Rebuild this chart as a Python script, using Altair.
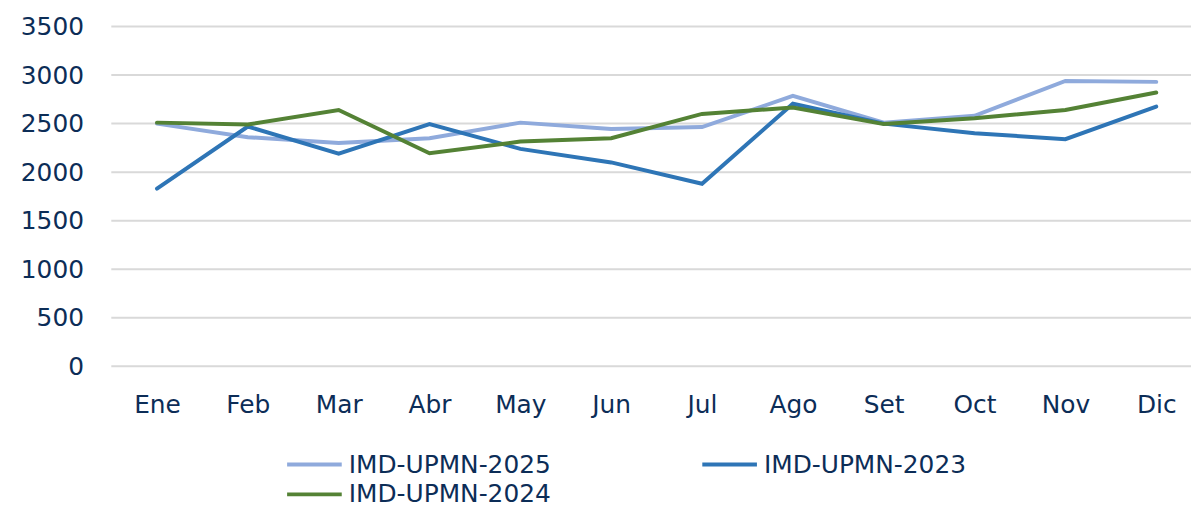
import altair as alt
import pandas as pd

months = ["Ene", "Feb", "Mar", "Abr", "May", "Jun", "Jul", "Ago", "Set", "Oct", "Nov", "Dic"]
series_names = ["IMD-UPMN-2025", "IMD-UPMN-2023", "IMD-UPMN-2024"]
v2025 = [2500, 2360, 2300, 2350, 2510, 2445, 2465, 2785, 2510, 2580, 2940, 2930]
v2023 = [1830, 2470, 2190, 2495, 2240, 2100, 1880, 2705, 2500, 2400, 2340, 2675]
v2024 = [2510, 2490, 2640, 2195, 2315, 2350, 2600, 2665, 2495, 2555, 2640, 2820]
series_colors = {"IMD-UPMN-2025": "#8FAADC", "IMD-UPMN-2023": "#2E75B6", "IMD-UPMN-2024": "#548235"}
y_ticks = [0, 500, 1000, 1500, 2000, 2500, 3000, 3500]

# legend fills column-major: column 1 = 2025, 2024 ; column 2 = 2023
legend_order = ["IMD-UPMN-2025", "IMD-UPMN-2024", "IMD-UPMN-2023"]

rows = []
for name, vals in zip(series_names, [v2025, v2023, v2024]):
    for m, v in zip(months, vals):
        rows.append({"mes": m, "serie": name, "valor": v})
df = pd.DataFrame(rows)
grid_df = pd.DataFrame({"valor": y_ticks})

FONT = "DejaVu Sans"
TXT = "#0C2D57"

y_enc = alt.Y("valor:Q", title=None,
              scale=alt.Scale(domain=[0, 3500], nice=False),
              axis=alt.Axis(values=y_ticks, ticks=False, domain=False, grid=False,
                            format="d",
                            labelFont=FONT, labelFontSize=25, labelColor=TXT,
                            labelPadding=28))

grid = alt.Chart(grid_df).mark_rule(color="#D9D9D9", strokeWidth=2).encode(
    y=y_enc,
    x=alt.value(0),
    x2=alt.value(1087),
)

x_enc = alt.X("mes:N", sort=months, title=None,
              scale=alt.Scale(type="point", range=[46, 1052], padding=0),
              axis=alt.Axis(labelAngle=0, ticks=False, domain=False, grid=False,
                            labelFont=FONT, labelFontSize=25, labelColor=TXT,
                            labelPadding=27))
color_enc = alt.Color("serie:N", title=None,
                      scale=alt.Scale(domain=legend_order,
                                      range=[series_colors[s] for s in legend_order]),
                      legend=alt.Legend(orient="none", legendX=175, legendY=426,
                                        columns=2, columnPadding=150, rowPadding=0,
                                        clipHeight=30,
                                        symbolType="stroke", symbolSize=3025,
                                        symbolStrokeWidth=4, labelOffset=5,
                                        labelFont=FONT, labelFontSize=25,
                                        labelColor=TXT, labelLimit=400, padding=0))

line_layers = []
for s in series_names:
    line_layers.append(
        alt.Chart(df).transform_filter(alt.datum.serie == s)
        .mark_line(strokeWidth=4, strokeCap="round")
        .encode(x=x_enc, y=y_enc, color=color_enc)
    )

chart = alt.layer(grid, *line_layers).properties(
    width=1079, height=342,
    autosize=alt.AutoSizeParams(type="none"),
    padding={"left": 104, "top": 17, "right": 8, "bottom": 137},
).configure_view(stroke=None)

chart.save("out.html", embed_options={"renderer": "svg", "actions": False})
